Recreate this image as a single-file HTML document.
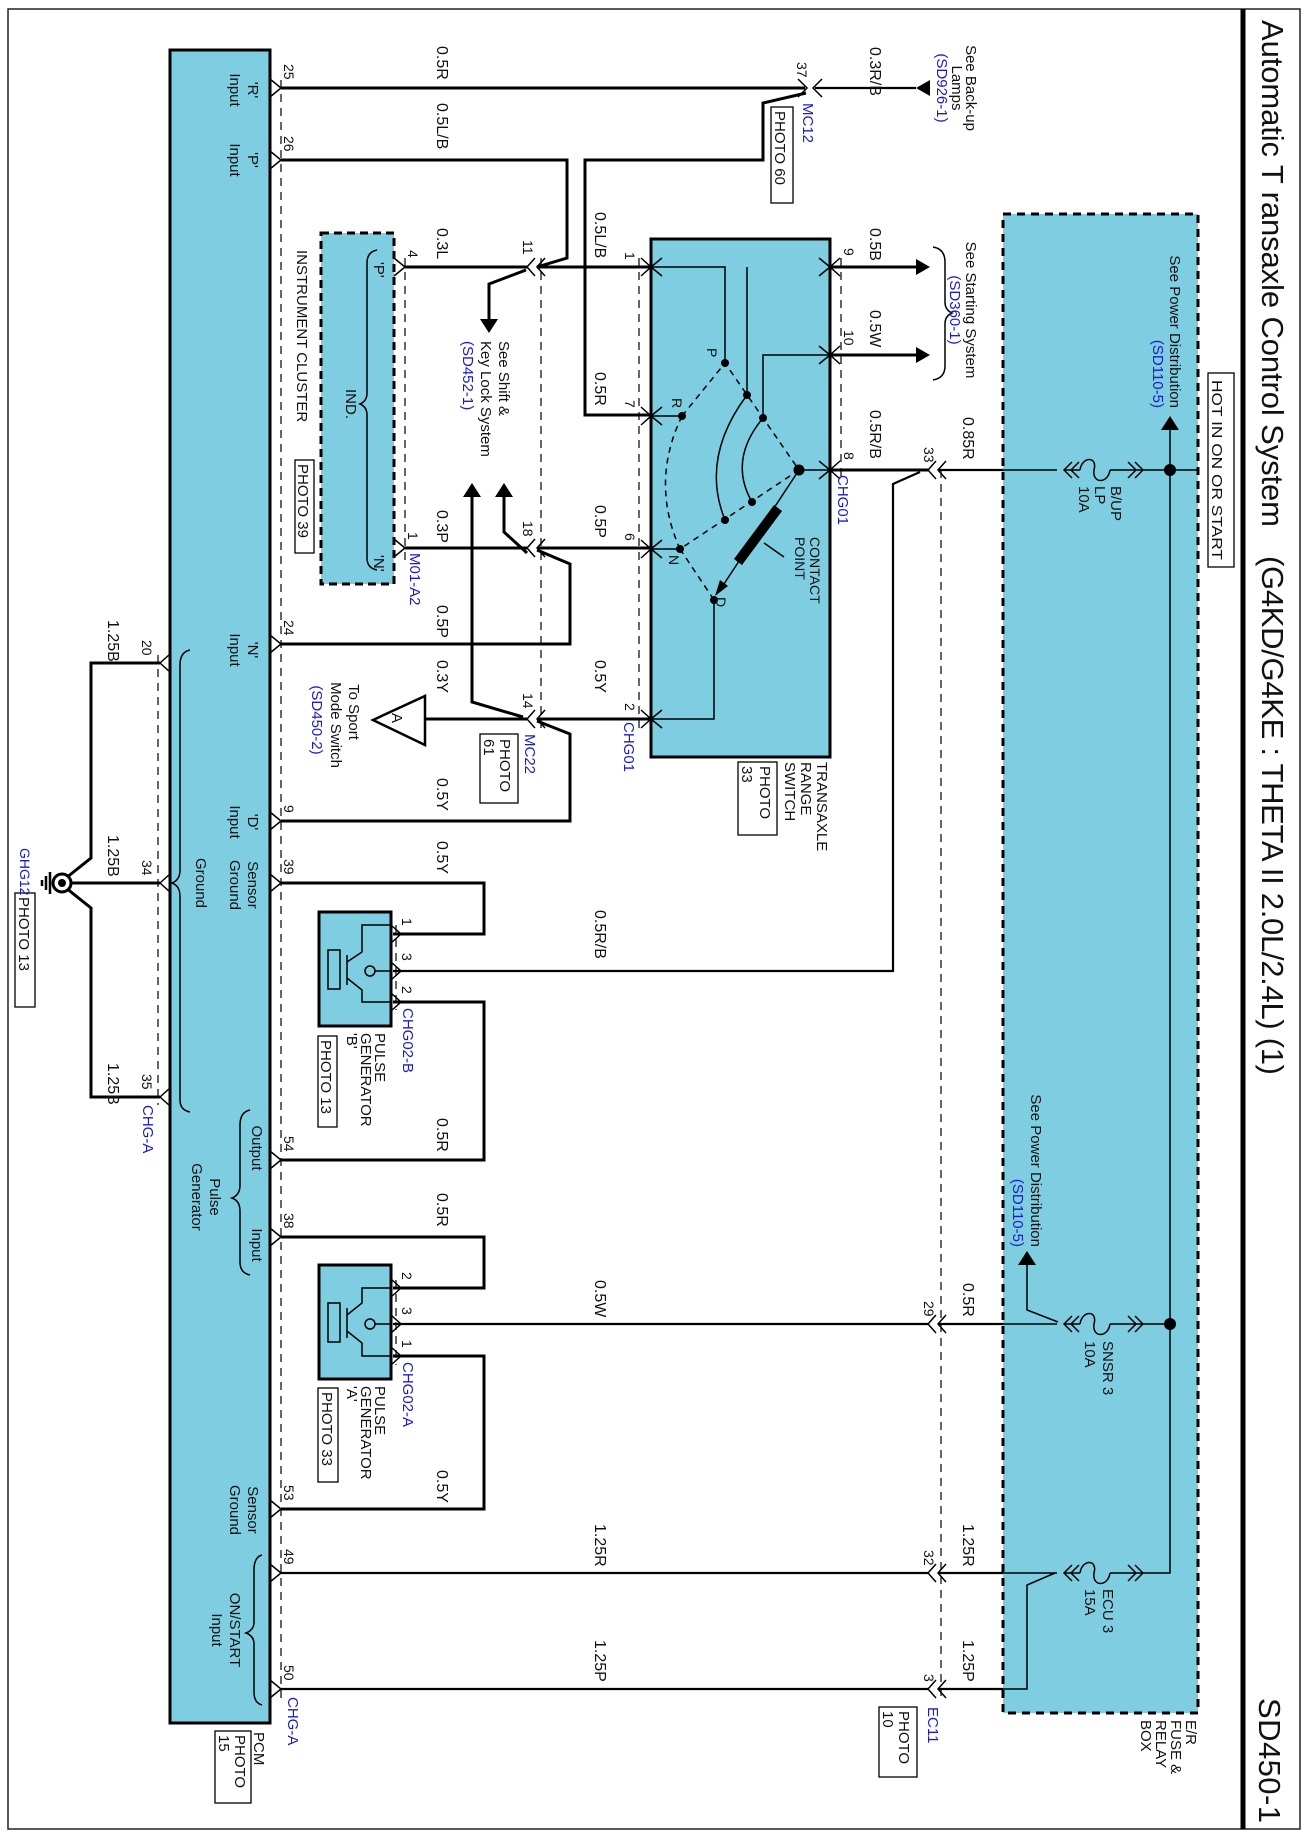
<!DOCTYPE html>
<html><head><meta charset="utf-8"><style>
html,body{margin:0;padding:0;background:#fff;}
svg{display:block;}
text{font-family:"Liberation Sans",Arial,sans-serif;fill:#111;}
.w{font-size:16px;}
.p{font-size:14px;}
.b{fill:#1a1acc;font-size:15px;}
.l{font-size:15px;}
</style></head><body>
<svg width="1305" height="1836" viewBox="0 0 1305 1836" xmlns="http://www.w3.org/2000/svg">
<rect x="0" y="0" width="1305" height="1836" fill="#fff"/>
<rect x="8" y="9" width="1292" height="1820" fill="none" stroke="#222" stroke-width="1.5"/>
<line x1="1243" y1="9" x2="1243" y2="1829" stroke="#000" stroke-width="5"/>

<rect x="170" y="50" width="100" height="1673" fill="#7fcde1" stroke="#000" stroke-width="3"/>
<rect x="1003" y="214" width="195" height="1499" fill="#7fcde1" stroke="#000" stroke-width="3" stroke-dasharray="8,6"/>
<rect x="651" y="239" width="179" height="518" fill="#7fcde1" stroke="#000" stroke-width="3"/>
<rect x="321" y="233" width="73" height="351" fill="#7fcde1" stroke="#000" stroke-width="3" stroke-dasharray="8,5"/>
<rect x="319" y="912" width="72" height="114" fill="#7fcde1" stroke="#000" stroke-width="3"/>
<rect x="319" y="1265" width="72" height="114" fill="#7fcde1" stroke="#000" stroke-width="3"/>

<g stroke="#000" stroke-width="1.2" stroke-dasharray="8,6" fill="none">
<line x1="281" y1="80" x2="281" y2="1700"/>
<line x1="158" y1="655" x2="158" y2="1105"/>
<line x1="405" y1="258" x2="405" y2="560"/>
<line x1="541" y1="258" x2="541" y2="730"/>
<line x1="639" y1="258" x2="639" y2="730"/>
<line x1="841" y1="258" x2="841" y2="480"/>
<line x1="941" y1="470" x2="941" y2="1700"/>
<line x1="396" y1="925" x2="396" y2="1010"/>
<line x1="396" y1="1280" x2="396" y2="1365"/>
</g>

<g stroke="#000" stroke-width="3" fill="none" stroke-linejoin="miter">
<polyline points="281,88 805,88"/>
<polyline points="806,93 763,103 763,160 585,160 585,415 651,415"/>
<polyline points="281,160 567,160 567,258 537,267"/>
<polyline points="405,267 527,267"/><polyline points="537,267 651,267"/>
<polyline points="526,270 489,284 489,320"/>
<polyline points="405,548 527,548"/><polyline points="537,548 651,548"/>
<polyline points="472,495 472,702 523,717"/>
<polyline points="504,495 504,532 527,553"/>
<polyline points="537,550 570,564 570,644 281,644"/>
<polyline points="425,719 527,719"/><polyline points="537,719 651,719"/>
<polyline points="537,721 570,734 570,821 281,821"/>
<polyline points="281,883 484,883 484,934 393,934"/>
<polyline points="393,1002 484,1002 484,1160 281,1160"/>
<polyline points="281,1237 484,1237 484,1288 393,1288"/>
<polyline points="393,1356 484,1356 484,1509 281,1509"/>
<polyline points="830,267 916,267"/><polyline points="830,355 916,355"/>
<polyline points="830,470 928,470"/>
<polyline points="160,663 91,663 91,858 66,878"/>
<polyline points="160,883 70,883"/>
<polyline points="160,1097 91,1097 91,908 66,888"/>
</g>
<g stroke="#000" stroke-width="2.2" fill="none">
<polyline points="815,88 916,88"/>
<polyline points="393,971 893,971 893,484 920,472"/>
<polyline points="393,1324 928,1324"/>
<polyline points="281,1573 928,1573"/>
<polyline points="281,1689 928,1689"/>
<polyline points="938,470 1003,470"/>
<polyline points="938,1324 1003,1324"/>
<polyline points="938,1573 1003,1573"/>
<polyline points="938,1689 1003,1689"/>
</g>
<g stroke="#000" stroke-width="1.5" fill="none">
<polyline points="1003,470 1057,470"/><polyline points="1143,470 1198,470"/>
<polyline points="1170,428 1170,1573 1143,1573"/>
<polyline points="1003,1324 1057,1324"/><polyline points="1143,1324 1170,1324"/>
<polyline points="1058,1322 1027,1310 1027,1265"/>
<polyline points="1003,1573 1057,1573"/>
<polyline points="1055,1573 1027,1585 1027,1689 1003,1689"/>
<path d="M1072,462 L1064,470 L1072,478 M1079,462 L1071,470 L1079,478 M1080,470 C1082,456 1098,456 1094,470 C1092,484 1108,484 1110,470 M1128,462 L1136,470 L1128,478 M1135,462 L1143,470 L1135,478 M1064,470 L1080,470 M1110,470 L1143,470"/>
<path d="M1072,1316 L1064,1324 L1072,1332 M1079,1316 L1071,1324 L1079,1332 M1080,1324 C1082,1310 1098,1310 1094,1324 C1092,1338 1108,1338 1110,1324 M1128,1316 L1136,1324 L1128,1332 M1135,1316 L1143,1324 L1135,1332 M1064,1324 L1080,1324 M1110,1324 L1143,1324"/>
<path d="M1072,1565 L1064,1573 L1072,1581 M1079,1565 L1071,1573 L1079,1581 M1080,1573 C1082,1559 1098,1559 1094,1573 C1092,1587 1108,1587 1110,1573 M1128,1565 L1136,1573 L1128,1581 M1135,1565 L1143,1573 L1135,1581 M1064,1573 L1080,1573 M1110,1573 L1143,1573"/>
<polyline points="651,267 725,267 725,363"/>
<polyline points="747,395 747,267"/>
<polyline points="830,355 763,355 763,418"/>
<polyline points="651,416 682,416"/>
<polyline points="651,549 680,549"/>
<polyline points="799,470 830,470"/>
<polyline points="714,600 714,719 651,719"/>
<path d="M747,395 Q700,458 725,520"/>
<path d="M763,418 Q728,460 752,502"/>
<line x1="799" y1="470" x2="720" y2="590"/>
<line x1="784" y1="557" x2="764" y2="543"/>
<path d="M328,950 h12 v39 h-12 z M347,955 v30 M347,962 L362,952 L362,925 L391,925 M347,978 L362,990 L362,1002 L391,1002 M375,971 L391,971"/>
<circle cx="370" cy="971" r="5"/>
<path d="M328,1303 h12 v39 h-12 z M347,1308 v30 M347,1315 L362,1303 L362,1288 L391,1288 M347,1331 L362,1343 L362,1356 L391,1356 M375,1324 L391,1324"/>
<circle cx="370" cy="1324" r="5"/>
<path d="M190,650 Q180,652 180,665 L180,870 Q180,880 172,883 Q180,886 180,896 L180,1100 Q180,1110 190,1112"/>
<path d="M250,1110 Q240,1112 240,1125 L240,1185 Q240,1195 232,1198 Q240,1201 240,1211 L240,1262 Q240,1273 250,1275"/>
<path d="M262,1555 Q254,1557 254,1570 L254,1622 Q254,1630 246,1633 Q254,1636 254,1644 L254,1692 Q254,1703 262,1705"/>
<path d="M377,250 Q367,252 367,263 L367,393 Q367,401 360,404 Q367,407 367,415 L367,558 Q367,568 377,570"/>
<path d="M933,247 Q945,249 945,262 L945,302 Q945,310 952,313 Q945,316 945,324 L945,366 Q945,378 933,380"/>
</g>
<g stroke="#000" stroke-width="1.5" fill="none" stroke-dasharray="6,5">
<polyline points="682,416 725,363 799,470 680,549 714,600"/>
<path d="M682,416 Q650,482 680,549"/>
</g>
<line x1="778" y1="508" x2="738" y2="562" stroke="#000" stroke-width="10"/>
<polygon points="715,596 720,580 728,586" fill="#000"/>
<g fill="#000">
<circle cx="725" cy="363" r="4"/><circle cx="682" cy="416" r="4"/><circle cx="680" cy="549" r="4"/><circle cx="714" cy="600" r="4"/><circle cx="799" cy="470" r="5.5"/>
<circle cx="747" cy="395" r="4"/><circle cx="763" cy="418" r="4"/><circle cx="752" cy="502" r="4"/><circle cx="725" cy="520" r="4"/>
<circle cx="1170" cy="470" r="6"/><circle cx="1170" cy="1324" r="6"/>
<polygon points="916,88 930,80 930,96"/>
<polygon points="916,259 916,275 930,267"/>
<polygon points="916,347 916,363 930,355"/>
<polygon points="480,319 498,319 489,333"/>
<polygon points="463,497 481,497 472,483"/>
<polygon points="495,497 513,497 504,483"/>
<polygon points="1161,430 1179,430 1170,416"/>
<polygon points="1018,1265 1036,1265 1027,1251"/>
</g>
<polygon points="373,720 425,696 425,745" fill="#fff" stroke="#000" stroke-width="2.5"/>
<circle cx="62" cy="883" r="9" fill="#fff" stroke="#000" stroke-width="3"/>
<circle cx="62" cy="883" r="4" fill="#000"/>
<g stroke="#000" stroke-width="2.5"><line x1="50" y1="872" x2="50" y2="894"/><line x1="46" y1="876" x2="46" y2="890"/><line x1="42" y1="880" x2="42" y2="886"/></g>

<g stroke="#000" stroke-width="1.5" fill="none">
<path d="M270,79 L281,88 L270,97 M270,151 L281,160 L270,169 M270,635 L281,644 L270,653 M270,812 L281,821 L270,830 M270,874 L281,883 L270,892 M270,1151 L281,1160 L270,1169 M270,1228 L281,1237 L270,1246 M270,1500 L281,1509 L270,1518 M270,1564 L281,1573 L270,1582 M270,1680 L281,1689 L270,1698"/>
<path d="M170,654 L160,663 L170,672 M170,874 L160,883 L170,892 M170,1088 L160,1097 L170,1106"/>
<path d="M394,258 L405,267 L394,276 M394,539 L405,548 L394,557"/>
<path d="M391,925 L401,934 L391,943 M391,962 L401,971 L391,980 M391,993 L401,1002 L391,1011 M391,1279 L401,1288 L391,1297 M391,1315 L401,1324 L391,1333 M391,1347 L401,1356 L391,1365"/>
<path d="M662,258 L651,267 L662,276 M662,407 L651,416 L662,425 M662,540 L651,549 L662,558 M662,710 L651,719 L662,728 M641,258 L651,267 L641,276 M641,407 L651,416 L641,425 M641,540 L651,549 L641,558 M641,710 L651,719 L641,728"/>
<path d="M819,258 L830,267 L819,276 M819,346 L830,355 L819,364 M819,461 L830,470 L819,479 M840,258 L830,267 L840,276 M840,346 L830,355 L840,364 M840,461 L830,470 L840,479"/>
<path d="M798,79 L807,88 L798,97 M822,79 L813,88 L822,97"/>
<path d="M535,258 L527,267 L535,276 M545,258 L537,267 L545,276 M535,539 L527,548 L535,557 M545,539 L537,548 L545,557 M535,710 L527,719 L535,728 M545,710 L537,719 L545,728"/>
<path d="M936,461 L928,470 L936,479 M946,461 L938,470 L946,479 M936,1315 L928,1324 L936,1333 M946,1315 L938,1324 L946,1333 M936,1564 L928,1573 L936,1582 M946,1564 L938,1573 L946,1582 M936,1680 L928,1689 L936,1698 M946,1680 L938,1689 L946,1698"/>
</g>

<g fill="#fff" stroke="#000" stroke-width="1.3">
<rect x="771" y="107" width="22" height="96"/>
<rect x="480" y="734" width="38" height="69"/>
<rect x="295" y="460" width="19" height="93"/>
<rect x="738" y="762" width="39" height="73"/>
<rect x="318" y="1036" width="19" height="91"/>
<rect x="318" y="1388" width="20" height="94"/>
<rect x="15" y="893" width="20" height="114"/>
<rect x="879" y="1707" width="38" height="70"/>
<rect x="215" y="1731" width="36" height="72"/>
<rect x="1208" y="373" width="26" height="194"/>
</g>

<g>
<text style="font-size:31px" transform="translate(1262,20) rotate(90)" textLength="507" lengthAdjust="spacing">Automatic T ransaxle Control System</text>
<text style="font-size:31px" transform="translate(1262,556) rotate(90)" textLength="519" lengthAdjust="spacing">(G4KD/G4KE : THETA II 2.0L/2.4L) (1)</text>
<text style="font-size:31px" transform="translate(1259,1698) rotate(90)" textLength="125" lengthAdjust="spacing">SD450-1</text>
<text class="l" transform="translate(1212,380) rotate(90)" textLength="180" lengthAdjust="spacingAndGlyphs">HOT IN ON OR START</text>

<text class="w" transform="translate(437,46) rotate(90)">0.5R</text>
<text class="w" transform="translate(437,103) rotate(90)">0.5L/B</text>
<text class="w" transform="translate(437,228) rotate(90)">0.3L</text>
<text class="w" transform="translate(437,510) rotate(90)">0.3P</text>
<text class="w" transform="translate(437,605) rotate(90)">0.5P</text>
<text class="w" transform="translate(437,660) rotate(90)">0.3Y</text>
<text class="w" transform="translate(437,778) rotate(90)">0.5Y</text>
<text class="w" transform="translate(437,841) rotate(90)">0.5Y</text>
<text class="w" transform="translate(437,1118) rotate(90)">0.5R</text>
<text class="w" transform="translate(437,1193) rotate(90)">0.5R</text>
<text class="w" transform="translate(437,1470) rotate(90)">0.5Y</text>
<text class="w" transform="translate(595,212) rotate(90)">0.5L/B</text>
<text class="w" transform="translate(595,372) rotate(90)">0.5R</text>
<text class="w" transform="translate(595,505) rotate(90)">0.5P</text>
<text class="w" transform="translate(595,660) rotate(90)">0.5Y</text>
<text class="w" transform="translate(595,910) rotate(90)">0.5R/B</text>
<text class="w" transform="translate(595,1280) rotate(90)">0.5W</text>
<text class="w" transform="translate(595,1524) rotate(90)">1.25R</text>
<text class="w" transform="translate(595,1640) rotate(90)">1.25P</text>
<text class="w" transform="translate(870,47) rotate(90)">0.3R/B</text>
<text class="w" transform="translate(870,228) rotate(90)">0.5B</text>
<text class="w" transform="translate(870,310) rotate(90)">0.5W</text>
<text class="w" transform="translate(870,410) rotate(90)">0.5R/B</text>
<text class="w" transform="translate(963,417) rotate(90)">0.85R</text>
<text class="w" transform="translate(963,1283) rotate(90)">0.5R</text>
<text class="w" transform="translate(963,1524) rotate(90)">1.25R</text>
<text class="w" transform="translate(963,1640) rotate(90)">1.25P</text>
<text class="w" transform="translate(108,620) rotate(90)">1.25B</text>
<text class="w" transform="translate(108,835) rotate(90)">1.25B</text>
<text class="w" transform="translate(108,1063) rotate(90)">1.25B</text>

<text class="p" transform="translate(284,64) rotate(90)">25</text>
<text class="p" transform="translate(284,136) rotate(90)">26</text>
<text class="p" transform="translate(284,620) rotate(90)">24</text>
<text class="p" transform="translate(284,805) rotate(90)">9</text>
<text class="p" transform="translate(284,859) rotate(90)">39</text>
<text class="p" transform="translate(284,1136) rotate(90)">54</text>
<text class="p" transform="translate(284,1213) rotate(90)">38</text>
<text class="p" transform="translate(284,1485) rotate(90)">53</text>
<text class="p" transform="translate(284,1549) rotate(90)">49</text>
<text class="p" transform="translate(284,1665) rotate(90)">50</text>
<text class="p" transform="translate(142,640) rotate(90)">20</text>
<text class="p" transform="translate(142,860) rotate(90)">34</text>
<text class="p" transform="translate(142,1074) rotate(90)">35</text>
<text class="p" transform="translate(408,250) rotate(90)">4</text>
<text class="p" transform="translate(408,532) rotate(90)">1</text>
<text class="p" transform="translate(523,240) rotate(90)">11</text>
<text class="p" transform="translate(523,521) rotate(90)">18</text>
<text class="p" transform="translate(523,693) rotate(90)">14</text>
<text class="p" transform="translate(625,252) rotate(90)">1</text>
<text class="p" transform="translate(625,400) rotate(90)">7</text>
<text class="p" transform="translate(625,533) rotate(90)">6</text>
<text class="p" transform="translate(625,703) rotate(90)">2</text>
<text class="p" transform="translate(844,248) rotate(90)">9</text>
<text class="p" transform="translate(844,330) rotate(90)">10</text>
<text class="p" transform="translate(844,452) rotate(90)">8</text>
<text class="p" transform="translate(797,62) rotate(90)">37</text>
<text class="p" transform="translate(924,447) rotate(90)">33</text>
<text class="p" transform="translate(924,1301) rotate(90)">29</text>
<text class="p" transform="translate(924,1550) rotate(90)">32</text>
<text class="p" transform="translate(924,1674) rotate(90)">3</text>
<text class="p" transform="translate(402,918) rotate(90)">1</text>
<text class="p" transform="translate(402,953) rotate(90)">3</text>
<text class="p" transform="translate(402,986) rotate(90)">2</text>
<text class="p" transform="translate(402,1272) rotate(90)">2</text>
<text class="p" transform="translate(402,1307) rotate(90)">3</text>
<text class="p" transform="translate(402,1340) rotate(90)">1</text>

<text class="b" transform="translate(803,103) rotate(90)">MC12</text>
<text class="b" transform="translate(410,553) rotate(90)">M01-A2</text>
<text class="b" transform="translate(525,734) rotate(90)">MC22</text>
<text class="b" transform="translate(624,722) rotate(90)">CHG01</text>
<text class="b" transform="translate(838,475) rotate(90)">CHG01</text>
<text class="b" transform="translate(403,1008) rotate(90)">CHG02-B</text>
<text class="b" transform="translate(403,1362) rotate(90)">CHG02-A</text>
<text class="b" transform="translate(143,1105) rotate(90)">CHG-A</text>
<text class="b" transform="translate(288,1697) rotate(90)">CHG-A</text>
<text class="b" transform="translate(928,1707) rotate(90)">EC11</text>
<text class="b" style="font-size:14px" transform="translate(20,848) rotate(90)">GHG12</text>

<text class="l" transform="translate(775,111) rotate(90)">PHOTO 60</text>
<text class="l" transform="translate(500,739) rotate(90)">PHOTO</text>
<text class="l" transform="translate(484,739) rotate(90)">61</text>
<text class="l" transform="translate(298,464) rotate(90)">PHOTO 39</text>
<text class="l" transform="translate(760,766) rotate(90)">PHOTO</text>
<text class="l" transform="translate(742,766) rotate(90)">33</text>
<text class="l" transform="translate(321,1040) rotate(90)">PHOTO 13</text>
<text class="l" transform="translate(322,1392) rotate(90)">PHOTO 33</text>
<text class="l" transform="translate(19,897) rotate(90)">PHOTO 13</text>
<text class="l" transform="translate(899,1711) rotate(90)">PHOTO</text>
<text class="l" transform="translate(883,1711) rotate(90)">10</text>
<text class="l" transform="translate(235,1735) rotate(90)">PHOTO</text>
<text class="l" transform="translate(219,1735) rotate(90)">15</text>
<text class="l" transform="translate(254,1732) rotate(90)">PCM</text>

<text class="l" transform="translate(817,762) rotate(90)">TRANSAXLE</text>
<text class="l" transform="translate(801,762) rotate(90)">RANGE</text>
<text class="l" transform="translate(785,762) rotate(90)">SWITCH</text>
<text class="l" transform="translate(297,250) rotate(90)">INSTRUMENT CLUSTER</text>
<text class="l" transform="translate(346,404) rotate(90)" text-anchor="middle">IND.</text>
<text class="l" transform="translate(374,262) rotate(90)">'P'</text>
<text class="l" transform="translate(374,555) rotate(90)">'N'</text>
<text class="l" transform="translate(375,1033) rotate(90)">PULSE</text>
<text class="l" transform="translate(361,1033) rotate(90)">GENERATOR</text>
<text class="l" transform="translate(347,1033) rotate(90)">'B'</text>
<text class="l" transform="translate(375,1386) rotate(90)">PULSE</text>
<text class="l" transform="translate(361,1386) rotate(90)">GENERATOR</text>
<text class="l" transform="translate(347,1386) rotate(90)">'A'</text>
<text class="l" transform="translate(1186,1720) rotate(90)">E/R</text>
<text class="l" transform="translate(1171,1720) rotate(90)">FUSE &amp;</text>
<text class="l" transform="translate(1156,1720) rotate(90)">RELAY</text>
<text class="l" transform="translate(1141,1720) rotate(90)">BOX</text>
<text class="l" transform="translate(1111,486) rotate(90)">B/UP</text>
<text class="l" transform="translate(1095,486) rotate(90)">LP</text>
<text class="l" transform="translate(1079,486) rotate(90)">10A</text>
<text class="l" transform="translate(1103,1341) rotate(90)">SNSR 3</text>
<text class="l" transform="translate(1085,1341) rotate(90)">10A</text>
<text class="l" transform="translate(1103,1589) rotate(90)">ECU 3</text>
<text class="l" transform="translate(1085,1589) rotate(90)">15A</text>
<text class="l" transform="translate(810,537) rotate(90)" style="font-size:14px">CONTACT</text>
<text class="l" transform="translate(795,537) rotate(90)" style="font-size:14px">POINT</text>
<text class="p" transform="translate(707,348) rotate(90)">P</text>
<text class="p" transform="translate(672,398) rotate(90)">R</text>
<text class="p" transform="translate(669,555) rotate(90)">N</text>
<text class="p" transform="translate(716,597) rotate(90)">D</text>
<text class="l" transform="translate(392,713) rotate(90)">A</text>

<text class="l" transform="translate(966,88) rotate(90)" text-anchor="middle">See Back-up</text>
<text class="l" transform="translate(952,88) rotate(90)" text-anchor="middle">Lamps</text>
<text class="b" transform="translate(937,88) rotate(90)" text-anchor="middle">(SD926-1)</text>
<text class="l" transform="translate(966,310) rotate(90)" text-anchor="middle">See Starting System</text>
<text class="b" transform="translate(950,310) rotate(90)" text-anchor="middle">(SD360-1)</text>
<text class="l" transform="translate(499,341) rotate(90)">See Shift &amp;</text>
<text class="l" transform="translate(481,341) rotate(90)">Key Lock System</text>
<text class="b" transform="translate(463,341) rotate(90)">(SD452-1)</text>
<text class="l" transform="translate(349,712) rotate(90)" text-anchor="middle">To Sport</text>
<text class="l" transform="translate(331,725) rotate(90)" text-anchor="middle">Mode Switch</text>
<text class="b" transform="translate(312,720) rotate(90)" text-anchor="middle">(SD450-2)</text>
<text class="l" transform="translate(1170,408) rotate(90)" text-anchor="end">See Power Distribution</text>
<text class="b" transform="translate(1153,408) rotate(90)" text-anchor="end">(SD110-5)</text>
<text class="l" transform="translate(1031,1247) rotate(90)" text-anchor="end">See Power Distribution</text>
<text class="b" transform="translate(1013,1247) rotate(90)" text-anchor="end">(SD110-5)</text>

<text class="l" transform="translate(248,90) rotate(90)" text-anchor="middle">'R'</text>
<text class="l" transform="translate(230,90) rotate(90)" text-anchor="middle">Input</text>
<text class="l" transform="translate(248,160) rotate(90)" text-anchor="middle">'P'</text>
<text class="l" transform="translate(230,160) rotate(90)" text-anchor="middle">Input</text>
<text class="l" transform="translate(248,650) rotate(90)" text-anchor="middle">'N'</text>
<text class="l" transform="translate(230,650) rotate(90)" text-anchor="middle">Input</text>
<text class="l" transform="translate(248,822) rotate(90)" text-anchor="middle">'D'</text>
<text class="l" transform="translate(230,822) rotate(90)" text-anchor="middle">Input</text>
<text class="l" transform="translate(248,885) rotate(90)" text-anchor="middle">Sensor</text>
<text class="l" transform="translate(230,885) rotate(90)" text-anchor="middle">Ground</text>
<text class="l" transform="translate(196,883) rotate(90)" text-anchor="middle">Ground</text>
<text class="l" transform="translate(252,1148) rotate(90)" text-anchor="middle">Output</text>
<text class="l" transform="translate(210,1197) rotate(90)" text-anchor="middle">Pulse</text>
<text class="l" transform="translate(192,1197) rotate(90)" text-anchor="middle">Generator</text>
<text class="l" transform="translate(252,1245) rotate(90)" text-anchor="middle">Input</text>
<text class="l" transform="translate(248,1510) rotate(90)" text-anchor="middle">Sensor</text>
<text class="l" transform="translate(230,1510) rotate(90)" text-anchor="middle">Ground</text>
<text class="l" transform="translate(230,1630) rotate(90)" text-anchor="middle">ON/START</text>
<text class="l" transform="translate(212,1630) rotate(90)" text-anchor="middle">Input</text>
</g>
</svg>
</body></html>
